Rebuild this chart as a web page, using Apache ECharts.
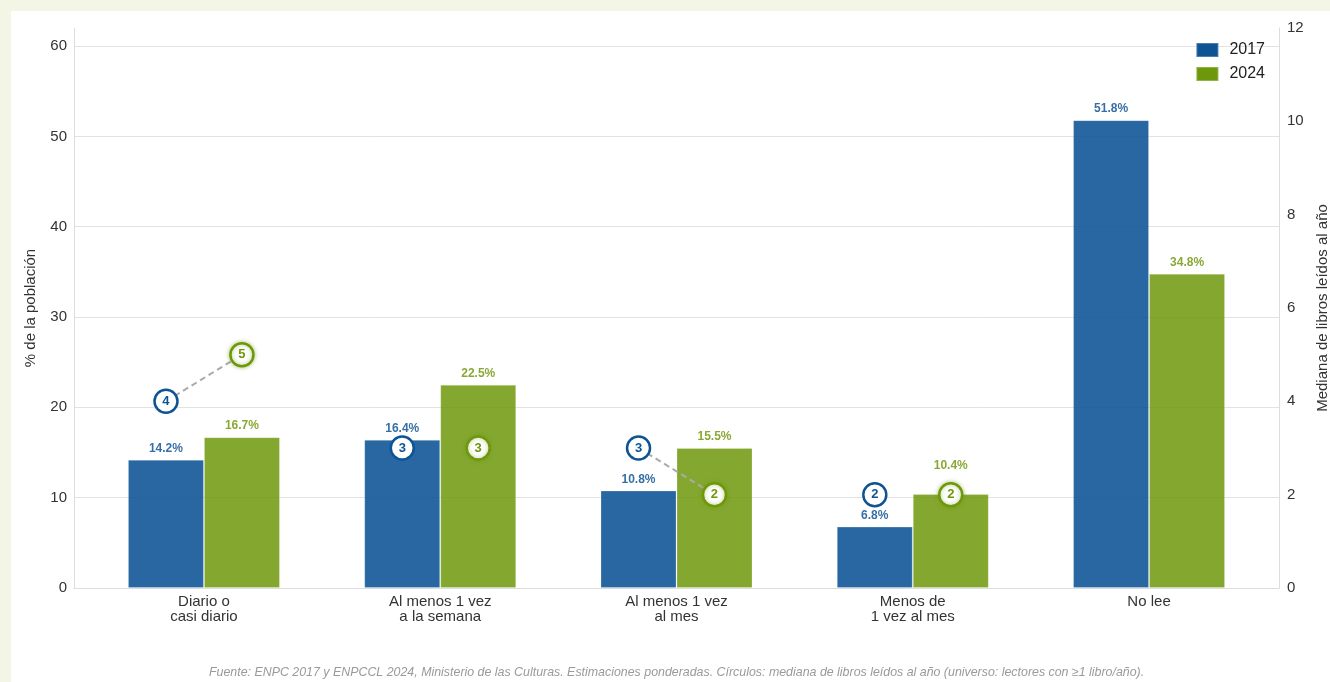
<!DOCTYPE html>
<html>
<head>
<meta charset="utf-8">
<script src="https://cdn.jsdelivr.net/npm/echarts@6/dist/echarts.min.js"></script>
<style>
html,body{margin:0;padding:0;background:#f3f6e4;width:1330px;height:682px;overflow:hidden;}
#panel{position:absolute;left:11px;top:11px;right:0;bottom:0;background:#fff;}
#chart{position:absolute;left:0;top:0;width:1330px;height:682px;}
</style>
</head>
<body>
<div id="panel"></div>
<div id="chart"></div>
<script>
const categories = ['Diario o\ncasi diario', 'Al menos 1 vez\na la semana', 'Al menos 1 vez\nal mes', 'Menos de\n1 vez al mes', 'No lee'];
const pct2017 = [14.2, 16.4, 10.8, 6.8, 51.8];
const pct2024 = [16.7, 22.5, 15.5, 10.4, 34.8];
const median2017 = [4, 3, 3, 2, null];
const median2024 = [5, 3, 2, 2, null];
const leftTicks = { min: 0, max: 62, interval: 10 };
const rightTicks = { min: 0, max: 12, interval: 2 };

const FONT = '"Liberation Sans", Arial, sans-serif';
const C17 = '#0e5495', C24 = '#6e980c';
const L17 = '#1c5c98', L24 = '#74990f';
const OFF = 0.1607; // half bar width in category units

const chart = echarts.init(document.getElementById('chart'), null, { renderer: 'canvas' });

const barData17 = pct2017.map((v, i) => [i, v]);
// label of a 2024 bar is lifted above its median circle when the circle sits on the bar top
const barData24 = pct2024.map((v, i) => {
  const m = median2024[i];
  const clash = m != null && Math.abs(m / rightTicks.max - v / leftTicks.max) < 0.02;
  return clash ? { value: [i, v], label: { distance: 22 } } : [i, v];
});
const med17 = [], med24 = [];
median2017.forEach((v, i) => { if (v != null) med17.push([i - OFF, v]); });
median2024.forEach((v, i) => { if (v != null) med24.push([i + OFF, v]); });

const lineSeries = [];
median2017.forEach((v, i) => {
  const w = median2024[i];
  if (v != null && w != null && v !== w) {
    lineSeries.push({
      type: 'line', xAxisIndex: 0, yAxisIndex: 1, symbol: 'none', silent: true, z: 5,
      data: [[i - OFF, v], [i + OFF, w]],
      lineStyle: { color: '#aaaaaa', width: 2, type: [6, 4] }
    });
  }
});

const barLabel = (color) => ({
  show: true, position: 'top', distance: 5, color: color,
  fontFamily: FONT, fontWeight: 'bold', fontSize: 12,
  formatter: p => p.value[1].toFixed(1) + '%'
});

const medLabel = (color) => ({
  show: true, position: 'inside', color: color,
  fontFamily: FONT, fontWeight: 'bold', fontSize: 13,
  formatter: p => String(p.value[1])
});

chart.setOption({
  animation: false,
  textStyle: { fontFamily: FONT },
  grid: { left: 74, right: 51, top: 28, bottom: 94, containLabel: false, outerBoundsMode: 'none' },
  legend: {
    orient: 'vertical', right: 60, top: 37, itemWidth: 22, itemHeight: 14, itemGap: 8,
    textStyle: { fontSize: 16, color: '#222', fontFamily: FONT, padding: [0, 0, 0, 6] },
    data: [
      { name: '2017', icon: 'rect', itemStyle: { color: C17, opacity: 1 } },
      { name: '2024', icon: 'rect', itemStyle: { color: C24, opacity: 1 } }
    ]
  },
  xAxis: {
    type: 'value', min: -0.55, max: 4.55,
    axisLine: { show: true, onZero: false, lineStyle: { color: '#dddddd', width: 1 } },
    axisTick: { show: false },
    splitLine: { show: false },
    axisLabel: {
      customValues: categories.map((c, i) => i),
      formatter: v => categories[Math.round(v)] || '',
      color: '#333', fontSize: 15, lineHeight: 15, margin: 6, fontFamily: FONT
    }
  },
  yAxis: [
    {
      type: 'value', min: leftTicks.min, max: leftTicks.max, interval: leftTicks.interval,
      name: '% de la población', nameLocation: 'middle', nameGap: 36, nameRotate: 90,
      nameTextStyle: { fontSize: 15, color: '#333', fontFamily: FONT },
      axisLine: { show: true, onZero: false, lineStyle: { color: '#dddddd' } },
      axisTick: { show: false },
      axisLabel: { showMaxLabel: false, color: '#333', fontSize: 15, margin: 7, fontFamily: FONT },
      splitLine: { show: true, showMaxLine: false, showMinLine: false, lineStyle: { color: '#e2e2e2', width: 1 } }
    },
    {
      type: 'value', min: rightTicks.min, max: rightTicks.max, interval: rightTicks.interval,
      position: 'right',
      name: 'Mediana de libros leídos al año', nameLocation: 'middle', nameGap: 36, nameRotate: 90,
      nameTextStyle: { fontSize: 15, color: '#333', fontFamily: FONT },
      axisLine: { show: true, onZero: false, lineStyle: { color: '#dddddd' } },
      axisTick: { show: false },
      axisLabel: { color: '#333', fontSize: 15, margin: 8, fontFamily: FONT },
      splitLine: { show: false }
    }
  ],
  series: [
    {
      name: '2017', type: 'bar', xAxisIndex: 0, yAxisIndex: 0, data: barData17,
      barWidth: 76, barGap: '0%', z: 2,
      itemStyle: { color: C17, opacity: 0.89, borderColor: 'rgba(255,255,255,0.25)', borderWidth: 1 },
      label: barLabel(L17)
    },
    {
      name: '2024', type: 'bar', xAxisIndex: 0, yAxisIndex: 0, data: barData24,
      barWidth: 76, barGap: '0%', z: 2,
      itemStyle: { color: C24, opacity: 0.85, borderColor: 'rgba(255,255,255,0.25)', borderWidth: 1 },
      label: barLabel(L24)
    },
    ...lineSeries,
    {
      name: 'Mediana 2017', type: 'scatter', xAxisIndex: 0, yAxisIndex: 1, data: med17,
      symbol: 'circle', symbolSize: 23, z: 10,
      itemStyle: { color: '#ffffff', borderColor: C17, borderWidth: 2.5, opacity: 1 },
      label: medLabel(C17)
    },
    {
      name: 'Mediana 2024', type: 'scatter', xAxisIndex: 0, yAxisIndex: 1, data: med24,
      symbol: 'circle', symbolSize: 23, z: 10,
      itemStyle: { color: '#ffffff', borderColor: C24, borderWidth: 2.5, opacity: 1,
                   shadowBlur: 4, shadowColor: 'rgba(110,152,12,0.5)' },
      label: medLabel(C24)
    }
  ],
  graphic: [
    {
      type: 'text', left: 209, top: 667,
      style: {
        text: 'Fuente: ENPC 2017 y ENPCCL 2024, Ministerio de las Culturas. Estimaciones ponderadas. Círculos: mediana de libros leídos al año (universo: lectores con ≥1 libro/año).',
        fill: '#9a9a9a', font: 'italic 12.4px "Liberation Sans", Arial, sans-serif'
      }
    }
  ]
});
</script>
</body>
</html>
